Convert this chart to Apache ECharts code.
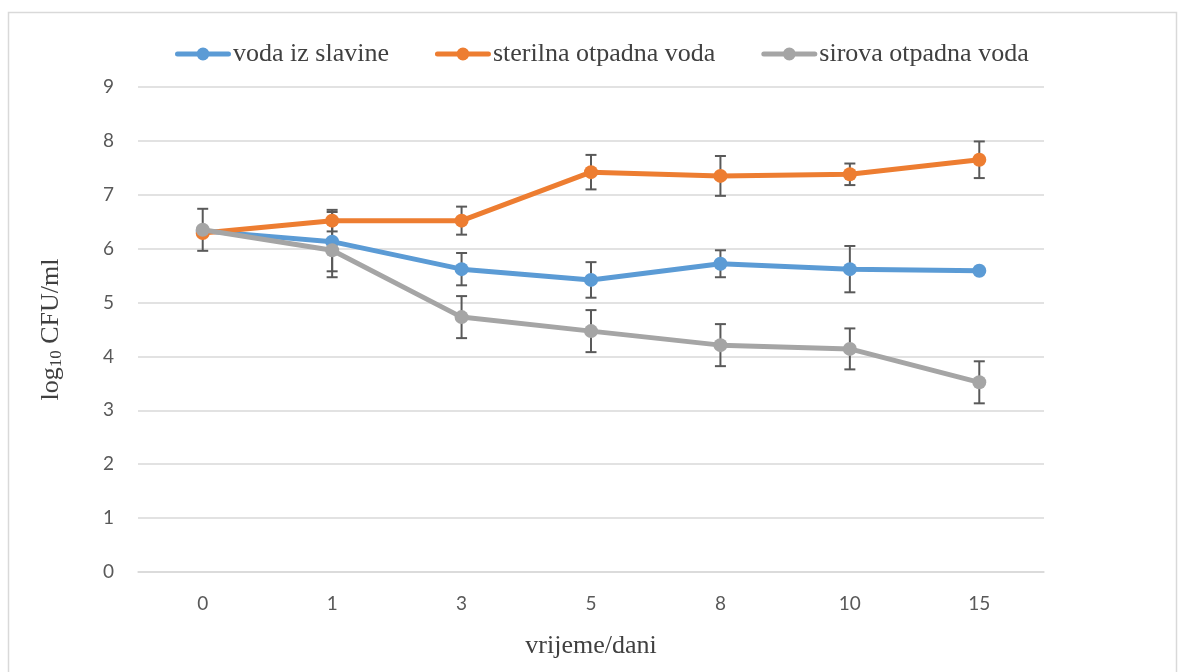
<!DOCTYPE html>
<html>
<head>
<meta charset="utf-8">
<script src="https://cdn.jsdelivr.net/npm/echarts@6/dist/echarts.min.js"></script>
<style>html,body{margin:0;padding:0;background:#fff}#c{width:1184px;height:672px}</style>
</head>
<body>
<div id="c"></div>
<script>
var categories = ['0', '1', '3', '5', '8', '10', '15'];
var yTicks = [0, 1, 2, 3, 4, 5, 6, 7, 8, 9];
var seriesNames = ['voda iz slavine', 'sterilna otpadna voda', 'sirova otpadna voda'];
var tapValues = [6.33, 6.13, 5.62, 5.42, 5.72, 5.62, 5.59];
var sterileValues = [6.29, 6.52, 6.52, 7.42, 7.35, 7.38, 7.65];
var rawValues = [6.35, 5.97, 4.73, 4.47, 4.21, 4.14, 3.52];
var tapErr = [0, 0.55, 0.3, 0.33, 0.25, 0.43, 0];
var sterileErr = [0, 0.2, 0.26, 0.32, 0.37, 0.2, 0.34];
var rawErr = [0.39, 0.5, 0.39, 0.39, 0.39, 0.38, 0.39];

var colors = ['#5B9BD5', '#ED7D31', '#A5A5A5'];
var values = [tapValues, sterileValues, rawValues];
var errs = [tapErr, sterileErr, rawErr];

var legendIcon = 'path://M2.5,4.5 L53.5,4.5 A2.5,2.5 0 0,1 53.5,9.5 L2.5,9.5 A2.5,2.5 0 0,1 2.5,4.5 Z M21.5,7 A6.5,6.5 0 1,1 34.5,7 A6.5,6.5 0 1,1 21.5,7 Z';

var chart = echarts.init(document.getElementById('c'));

function errSeries(k) {
  var data = [];
  values[k].forEach(function (v, i) {
    if (errs[k][i] > 0) data.push([i, v - errs[k][i], v + errs[k][i]]);
  });
  return {
    type: 'custom',
    name: 'err' + k,
    z: 1,
    silent: true,
    encode: { x: 0, y: [1, 2] },
    data: data,
    renderItem: function (params, api) {
      var x = api.value(0);
      var lo = api.coord([x, api.value(1)]);
      var hi = api.coord([x, api.value(2)]);
      var w = 5.5;
      var st = { stroke: '#595959', lineWidth: 2 };
      return {
        type: 'group',
        children: [
          { type: 'line', shape: { x1: lo[0], y1: lo[1], x2: hi[0], y2: hi[1] }, style: st },
          { type: 'line', shape: { x1: lo[0] - w, y1: lo[1], x2: lo[0] + w, y2: lo[1] }, style: st },
          { type: 'line', shape: { x1: hi[0] - w, y1: hi[1], x2: hi[0] + w, y2: hi[1] }, style: st }
        ]
      };
    }
  };
}

var series = [];
for (var k = 0; k < 3; k++) series.push(errSeries(k));
for (var k2 = 0; k2 < 3; k2++) {
  series.push({
    type: 'line',
    name: seriesNames[k2],
    data: values[k2],
    z: 3 + k2,
    symbol: 'circle',
    symbolSize: 14,
    lineStyle: { width: 5, color: colors[k2] },
    itemStyle: { color: colors[k2] },
    color: colors[k2]
  });
}

chart.setOption({
  animation: false,
  graphic: [{
    type: 'rect',
    shape: { x: 8.5, y: 12.5, width: 1168, height: 700 },
    style: { fill: 'none', stroke: '#D9D9D9', lineWidth: 1.5 },
    silent: true
  }],
  legend: {
    data: seriesNames.map(function (n) { return { name: n, icon: legendIcon }; }),
    top: 36,
    left: 170,
    itemWidth: 56,
    itemHeight: 14,
    itemGap: 46,
    textStyle: { fontFamily: 'Liberation Serif', fontSize: 26, color: '#404040', padding: [0, 0, 0, -3] }
  },
  grid: { left: 138, right: 140, top: 87, bottom: 100 },
  xAxis: {
    type: 'category',
    data: categories,
    boundaryGap: true,
    axisLine: { show: true, lineStyle: { color: '#D9D9D9', width: 1.5 } },
    axisTick: { show: false },
    axisLabel: { fontFamily: 'Lato', fontSize: 19, color: '#595959', margin: 22 },
    name: 'vrijeme/dani',
    nameLocation: 'middle',
    nameGap: 61,
    nameTextStyle: { fontFamily: 'Liberation Serif', fontSize: 26, color: '#404040' }
  },
  yAxis: {
    type: 'value',
    min: yTicks[0],
    max: yTicks[yTicks.length - 1],
    interval: 1,
    axisLine: { show: false },
    axisTick: { show: false },
    splitLine: { lineStyle: { color: '#D9D9D9', width: 1.5 } },
    axisLabel: { fontFamily: 'Lato', fontSize: 19, color: '#595959', margin: 24 },
    name: 'log{sub|10} CFU/ml',
    nameLocation: 'middle',
    nameRotate: 90,
    nameGap: 73,
    nameTextStyle: {
      fontFamily: 'Liberation Serif', fontSize: 26, color: '#404040',
      rich: { sub: { fontFamily: 'Liberation Serif', fontSize: 17, color: '#404040', verticalAlign: 'bottom', padding: [10, 0, 0, 0] } }
    }
  },
  series: series
});
</script>
</body>
</html>
